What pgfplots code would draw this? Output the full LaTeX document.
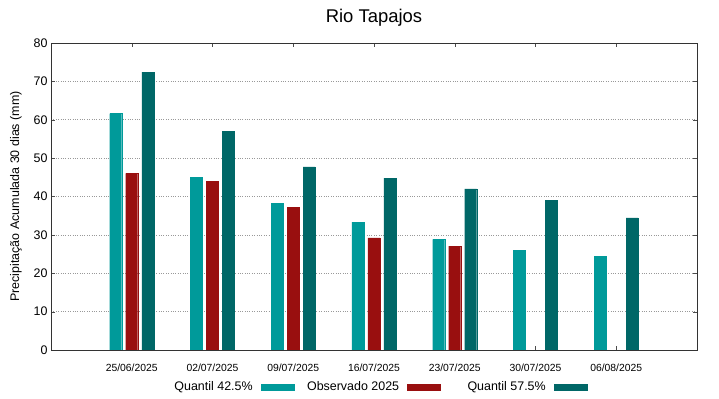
\documentclass[border=0pt]{standalone}
\usepackage{pgfplots}
\pgfplotsset{compat=1.18}
\usepackage{fontspec}
\setmainfont{Liberation Sans}
\definecolor{qa}{HTML}{009A9A}
\definecolor{ob}{HTML}{990F0F}
\definecolor{qb}{HTML}{006767}
\begin{document}
\begin{tikzpicture}
\useasboundingbox (0,0) rectangle (719bp,399bp);
\begin{axis}[
  at={(51bp,49bp)}, anchor=south west,
  scale only axis, width=646bp, height=307bp,
  xmin=-1, xmax=7, ymin=0, ymax=80,
  ytick={0,10,...,80},
  xtick={0,1,2,3,4,5,6},
  xticklabels={25/06/2025,02/07/2025,09/07/2025,16/07/2025,23/07/2025,30/07/2025,06/08/2025},
  ybar, bar width=12bp,
  ymajorgrids, grid style={dotted, gray!80, line width=0.6bp},
  tick align=inside, major tick length=4bp,
  tick style={black!70},
  axis line style={black!80, line width=0.8bp},
  /pgf/number format/assume math mode=true,
  yticklabel style={font=\fontsize{12.5}{14}\selectfont},
  xticklabel style={font=\fontsize{10.4}{12}\selectfont, yshift=-10bp},
  ylabel={Precipitação Acumulada 30 dias (mm)},
  ylabel style={font=\fontsize{12.5}{14}\selectfont, at={(axis description cs:-0.0542,0.5)}, anchor=center},
  title={Rio Tapajos},
  title style={font=\fontsize{18.5}{20}\selectfont, at={(axis description cs:0.5,1)}, anchor=center, yshift=19bp},
  legend columns=3, legend plot pos=right,
  legend image code/.code={\fill[#1] (0bp,-3bp) rectangle (33bp,3bp);},
  legend style={draw=none, fill=none, at={(0.509,-0.1205)}, anchor=center,
    font=\fontsize{12.5}{14}\selectfont,
    /tikz/column 1/.style={column sep=6bp},
    /tikz/column 2/.style={column sep=11bp},
    /tikz/column 3/.style={column sep=6bp},
    /tikz/column 4/.style={column sep=25bp},
    /tikz/column 5/.style={column sep=6bp}},
]
\addplot[fill=qa, draw=qa, bar shift=-16bp] coordinates {(0,61.6) (1,45.0) (2,38.2) (3,33.3) (4,28.8) (5,26.0) (6,24.4)};
\addlegendentry{Quantil 42.5\%}
\addplot[fill=ob, draw=ob, bar shift=0bp] coordinates {(0,46.0) (1,44.0) (2,37.1) (3,29.2) (4,27.1)};
\addlegendentry{Observado 2025}
\addplot[fill=qb, draw=qb, bar shift=16bp] coordinates {(0,72.4) (1,57.0) (2,47.7) (3,44.8) (4,42.0) (5,39.0) (6,34.4)};
\addlegendentry{Quantil 57.5\%}
\end{axis}
\end{tikzpicture}
\end{document}
